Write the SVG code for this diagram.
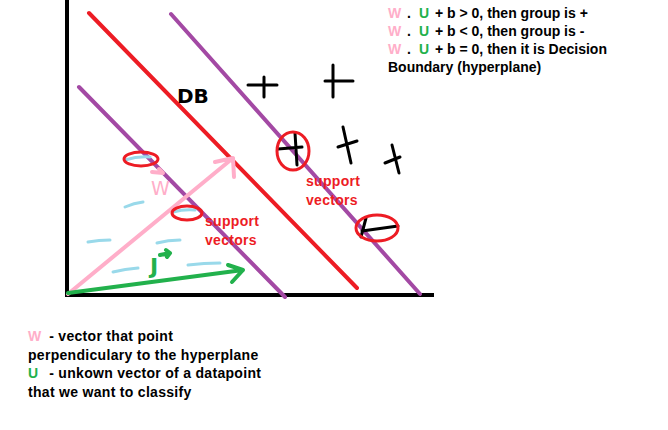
<svg xmlns="http://www.w3.org/2000/svg" width="668" height="430" viewBox="0 0 668 430">
<style>
.ax{stroke:#000;stroke-width:4;fill:none;stroke-linecap:square}
.red{stroke:#ed1c24;stroke-width:4;fill:none;stroke-linecap:round}
.pur{stroke:#a349a4;stroke-width:4;fill:none;stroke-linecap:round}
.pink{stroke:#ffaec9;stroke-width:4;fill:none;stroke-linecap:round;stroke-linejoin:round}
.grn{stroke:#22b14c;stroke-width:4;fill:none;stroke-linecap:round;stroke-linejoin:round}
.blue{stroke:#99d9ea;stroke-width:3;fill:none;stroke-linecap:round}
.ring{stroke:#ed1c24;stroke-width:3;fill:none}
.plus{stroke:#000;stroke-width:3;fill:none;stroke-linecap:round}
.t{font-family:"Liberation Sans",Arial,sans-serif;font-weight:bold;font-size:14px;fill:#000}
.b{letter-spacing:0.3px}
.sv{font-family:"Liberation Sans",Arial,sans-serif;font-weight:bold;font-size:14px;letter-spacing:0.3px;fill:#ed1c24}
.pk{fill:#ffaec9}
.gk{fill:#22b14c}
</style>
<rect width="668" height="430" fill="#fff"/>
<g id="axes">
<path class="ax" d="M67,0 V295 H432"/>
</g>
<g id="lines">
<path class="pur" d="M79,87 L285,297"/>
<path class="red" d="M89,13 L357,288"/>
<path class="pur" d="M171,14 L420,294"/>
</g>
<g id="negatives">
<path class="blue" d="M125,160 Q138,156 150,157"/>
<path class="blue" d="M125,207 Q134,203 143,202"/>
<path class="blue" d="M173,212 Q184,209 195,210"/>
<path class="blue" d="M88,242 Q99,240 110,240"/>
<path class="blue" d="M157,243 Q168,240 180,240"/>
<path class="blue" d="M113,272 Q125,269 138,268"/>
<path class="blue" d="M188,265 Q204,263 220,263"/>
</g>
<g id="positives">
<path class="plus" d="M248,85 H277 M264,77 V97"/>
<path class="plus" d="M325,81 H353 M333,65 V97"/>
<path class="plus" d="M338,147 L357,141 M343,127 L351,163"/>
<path class="plus" d="M385,163 L400,157 M392,145 L399,173"/>
<path class="plus" d="M278,149 L302,147 M295,133 L297,165"/>
<path class="plus" d="M366,218 L361,237 M362,231 L398,226"/>
</g>
<g id="vectors">
<path class="pink" d="M68,294 L233,158 M215,162 L233,158 L234,177"/>
<path class="grn" d="M68,293 L243,270 M228,265 L243,270 L232,282"/>
<path class="pink" d="M152,172 L163,173 M159,169 L163,173" stroke-width="2.5"/>
<text x="151" y="195" font-family="'DejaVu Sans',sans-serif" font-size="19" fill="#ffaec9">W</text>
<path class="grn" d="M160,255 L170,253 M166,250 L170,253 L167,257" stroke-width="2.5"/>
<text x="150" y="274" font-family="'DejaVu Sans',sans-serif" font-weight="bold" font-size="22" fill="#22b14c">J</text>
</g>
<g id="rings">
<ellipse class="ring" cx="141" cy="159" rx="17" ry="7"/>
<ellipse class="ring" cx="187" cy="213" rx="15" ry="7"/>
<ellipse class="ring" cx="293" cy="151" rx="16" ry="19"/>
<ellipse class="ring" cx="377" cy="228" rx="21" ry="13"/>
</g>
<g id="labels">
<text x="177" y="103" font-family="'DejaVu Sans',sans-serif" font-weight="bold" font-size="20" fill="#000">DB</text>
<text class="sv" x="205" y="226">support</text>
<text class="sv" x="205" y="245">vectors</text>
<text class="sv" x="306" y="186">support</text>
<text class="sv" x="306" y="205">vectors</text>
</g>
<g id="rules">
<text class="t" y="18"><tspan class="pk" x="388">W</tspan><tspan x="407">.</tspan><tspan class="gk" x="419">U</tspan><tspan x="435">+ b &gt; 0, then group is +</tspan></text>
<text class="t" y="36"><tspan class="pk" x="388">W</tspan><tspan x="407">.</tspan><tspan class="gk" x="419">U</tspan><tspan x="435">+ b &lt; 0, then group is -</tspan></text>
<text class="t" y="54"><tspan class="pk" x="388">W</tspan><tspan x="407">.</tspan><tspan class="gk" x="419">U</tspan><tspan x="435">+ b = 0, then it is Decision</tspan></text>
<text class="t" x="388" y="72">Boundary (hyperplane)</text>
</g>
<g id="legend">
<text class="t b" y="341"><tspan class="pk" x="28">W</tspan><tspan x="45"> - vector that point</tspan></text>
<text class="t b" x="28" y="360">perpendiculary to the hyperplane</text>
<text class="t b" y="378"><tspan class="gk" x="28">U</tspan><tspan x="45">  - unkown vector of a datapoint</tspan></text>
<text class="t b" x="28" y="397">that we want to classify</text>
</g>
</svg>
